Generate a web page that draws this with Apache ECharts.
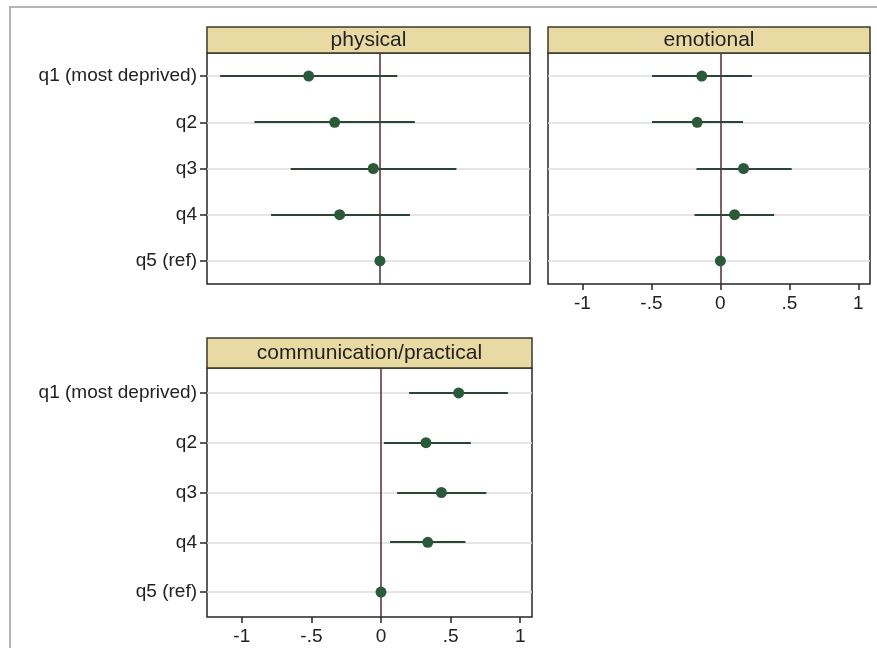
<!DOCTYPE html>
<html>
<head>
<meta charset="utf-8">
<script src="https://cdn.jsdelivr.net/npm/echarts@6/dist/echarts.min.js"></script>
<style>
html,body{margin:0;padding:0;background:#fff;}
#chart{width:877px;height:648px;}
</style>
</head>
<body>
<div id="chart"></div>
<script>
// ---- data ----
const categories = ['q1 (most deprived)', 'q2', 'q3', 'q4', 'q5 (ref)'];
const panelTitles = ['physical', 'emotional', 'communication/practical'];
const physicalEst = [-0.515, -0.327, -0.048, -0.291, 0];
const physicalLo  = [-1.155, -0.907, -0.645, -0.787, 0];
const physicalHi  = [0.125, 0.253, 0.553, 0.217, 0];
const emotionalEst = [-0.135, -0.168, 0.168, 0.103, 0];
const emotionalLo  = [-0.496, -0.496, -0.173, -0.188, 0];
const emotionalHi  = [0.229, 0.164, 0.517, 0.390, 0];
const commEst = [0.558, 0.323, 0.434, 0.336, 0];
const commLo  = [0.202, 0.021, 0.116, 0.065, 0];
const commHi  = [0.912, 0.646, 0.757, 0.607, 0];
const xTicks = [-1, -0.5, 0, 0.5, 1];

// ---- layout / style ----
const FONT = '"Liberation Sans", Arial, Helvetica, sans-serif';
const panels = [
  { est: physicalEst, lo: physicalLo, hi: physicalHi, left: 207, top: 53, width: 323, height: 231, headTop: 27, yLabels: true, xLabels: false },
  { est: emotionalEst, lo: emotionalLo, hi: emotionalHi, left: 548, top: 53, width: 322, height: 231, headTop: 27, yLabels: false, xLabels: true },
  { est: commEst, lo: commLo, hi: commHi, left: 207, top: 368, width: 325, height: 249, headTop: 338, yLabels: true, xLabels: true }
];
const X_MIN = -1.25, X_MAX = 1.085;
const fmt = v => v === 0 ? '0' : String(v).replace('0.', '.');

const grid = [], xAxis = [], yAxis = [], series = [], graphic = [];

graphic.push({ type: 'polyline', shape: { points: [[10, 648], [10, 7], [877, 7]] }, style: { stroke: '#b4b4b4', lineWidth: 2, fill: null }, silent: true });

panels.forEach((p, i) => {
  grid.push({ left: p.left, top: p.top, width: p.width, height: p.height, show: true, borderColor: '#262626', borderWidth: 1.5, backgroundColor: '#fff' });
  xAxis.push({
    type: 'value', gridIndex: i, min: X_MIN, max: X_MAX, position: 'bottom',
    axisLine: { show: false, onZero: false },
    splitLine: { show: false },
    axisTick: { show: p.xLabels, length: 6, lineStyle: { color: '#262626', width: 1.5 }, customValues: xTicks },
    axisLabel: { show: p.xLabels, fontSize: 19, color: '#222', fontFamily: FONT, margin: 10, customValues: xTicks, formatter: fmt }
  });
  yAxis.push({
    type: 'category', gridIndex: i, data: categories, inverse: true, position: 'left',
    axisLine: { show: false, onZero: false },
    splitLine: { show: false },
    axisTick: { show: p.yLabels, alignWithLabel: true, length: 7, lineStyle: { color: '#262626', width: 1.5 } },
    axisLabel: { show: p.yLabels, fontSize: 19, color: '#222', fontFamily: FONT, margin: 10 }
  });
  // category gridlines
  series.push({
    type: 'scatter', xAxisIndex: i, yAxisIndex: i, z: 1, silent: true,
    symbolSize: 0, itemStyle: { opacity: 0 },
    data: categories.map(c => [0, c]),
    markLine: {
      z: 1, silent: true, symbol: ['none', 'none'], label: { show: false }, animation: false,
      data: categories.map(c => ({ yAxis: c, lineStyle: { color: '#dcdcdc', width: 1.5, type: 'solid' } }))
    }
  });
  // zero reference line
  series.push({
    type: 'scatter', xAxisIndex: i, yAxisIndex: i, z: 2, silent: true,
    symbolSize: 0, itemStyle: { opacity: 0 },
    data: categories.map(c => [0, c]),
    markLine: {
      z: 2, silent: true, symbol: ['none', 'none'], label: { show: false }, animation: false,
      data: [{ xAxis: 0, lineStyle: { color: '#5a2a32', width: 1.5, type: 'solid' } }]
    }
  });
  const ciData = categories.map((c, k) => [p.lo[k], p.hi[k], k]);
  series.push({
    type: 'custom', xAxisIndex: i, yAxisIndex: i, z: 3,
    data: ciData,
    encode: { x: [0, 1], y: 2 },
    renderItem: function (params, api) {
      const a = api.coord([api.value(0), api.value(2)]);
      const b = api.coord([api.value(1), api.value(2)]);
      const y = Math.round(a[1]);
      return { type: 'line', shape: { x1: a[0], y1: y, x2: b[0], y2: y }, style: { stroke: '#2d4535', lineWidth: 2 } };
    }
  });
  series.push({
    type: 'scatter', xAxisIndex: i, yAxisIndex: i, z: 6,
    symbol: 'circle', symbolSize: 11,
    itemStyle: { color: '#2a5a39', opacity: 1 },
    data: categories.map((c, k) => [p.est[k], c])
  });
  graphic.push({
    type: 'rect', shape: { x: p.left, y: p.headTop, width: p.width, height: p.top - p.headTop },
    style: { fill: '#e8daa2', stroke: '#3a3a2a', lineWidth: 1.5 }, silent: true
  });
  graphic.push({
    type: 'text', x: p.left + p.width / 2, y: p.headTop + (p.top - p.headTop) / 2,
    style: { text: panelTitles[i], fontSize: 21, fontFamily: FONT, fill: '#222', align: 'center', verticalAlign: 'middle' }, silent: true
  });
});

const chart = echarts.init(document.getElementById('chart'), null, { renderer: 'canvas' });
chart.setOption({
  backgroundColor: '#fff',
  animation: false,
  grid, xAxis, yAxis, series, graphic
});
</script>
</body>
</html>
